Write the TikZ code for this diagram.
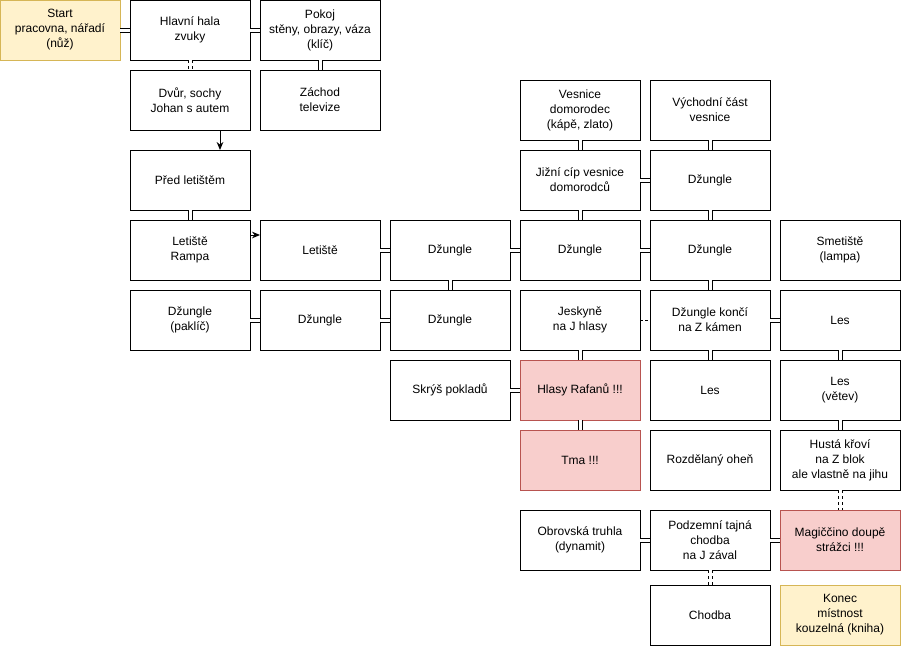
\documentclass[tikz,border=0pt]{standalone}
\usepackage{fontspec}
\setmainfont{Liberation Sans}
\usepackage{tikz}
\usetikzlibrary{arrows.meta,positioning}
\usepackage{xcolor}
\definecolor{goalfill}{HTML}{FFF2CC}
\definecolor{goaldraw}{HTML}{D6B656}
\definecolor{dangerfill}{HTML}{F8CECC}
\definecolor{dangerdraw}{HTML}{B85450}

\begin{document}
\begin{tikzpicture}[x=0.75pt, y=-0.75pt, font=\fontsize{9}{11.25}\selectfont, node distance=7.5pt and 7.5pt,
  room/.style={draw, line width=0.75pt, align=center, minimum width=90pt, minimum height=45pt, inner sep=2pt, outer sep=0pt},
  goal/.style={room, fill=goalfill, draw=goaldraw}, danger/.style={room, fill=dangerfill, draw=dangerdraw},
  link/.style={double, double distance=2.25pt, line width=0.75pt}, dlink/.style={link, dash pattern=on 2.25pt off 2.25pt},
  >={Stealth[length=6pt, width=5pt]}]
\useasboundingbox (0,0) rectangle (902,647);
\node[goal] (start) at (60,30) {Start\\pracovna, nářadí\\(nůž)};
\node[room, right=of start] (hala) {Hlavní hala\\zvuky};
\node[room, right=of hala] (pokoj) {Pokoj\\stěny, obrazy, váza\\(klíč)};
\node[room, below=of hala] (dvur) {Dvůr, sochy\\Johan s autem};
\node[room, below=of pokoj] (zachod) {Záchod\\televize};
\node[room, below=15pt of dvur] (pred) {Před letištěm};
\node[room, below=of pred] (rampa) {Letiště\\Rampa};
\node[room, right=of rampa] (letiste) {Letiště};
\node[room, right=of letiste] (dzA) {Džungle};
\node[room, right=of dzA] (dzB) {Džungle};
\node[room, right=of dzB] (dzC) {Džungle};
\node[room, right=of dzC] (smetiste) {Smetiště\\(lampa)};
\node[room, above=of dzB] (jizni) {Jižní cíp vesnice\\domorodců};
\node[room, above=of dzC] (dzV) {Džungle};
\node[room, above=of jizni] (vesnice) {Vesnice\\domorodec\\(kápě, zlato)};
\node[room, above=of dzV] (vychod) {Východní část\\vesnice};
\node[room, below=of rampa] (paklic) {Džungle\\(paklíč)};
\node[room, below=of letiste] (dzD) {Džungle};
\node[room, below=of dzA] (dzE) {Džungle};
\node[room, below=of dzB] (jeskyne) {Jeskyně\\na J hlasy};
\node[room, below=of dzC] (konci) {Džungle končí\\na Z kámen};
\node[room, below=of smetiste] (lesA) {Les};
\node[room, below=of dzE] (skrys) {Skrýš pokladů};
\node[danger, below=of jeskyne] (hlasy) {Hlasy Rafanů !!!};
\node[room, below=of konci] (lesB) {Les};
\node[room, below=of lesA] (vetev) {Les\\(větev)};
\node[danger, below=of hlasy] (tma) {Tma !!!};
\node[room, below=of lesB] (ohen) {Rozdělaný oheň};
\node[room, below=of vetev] (krovi) {Hustá křoví\\na Z blok\\ale vlastně na jihu};
\node[room, below=15pt of tma] (truhla) {Obrovská truhla\\(dynamit)};
\node[room, below=15pt of ohen] (podzemni) {Podzemní tajná\\chodba\\na J zával};
\node[danger, below=15pt of krovi] (magic) {Magiččino doupě\\strážci !!!};
\node[room, below=11.25pt of podzemni] (chodba) {Chodba};
\node[goal, below=11.25pt of magic] (konec) {Konec\\místnost\\kouzelná (kniha)};
% top floor
\draw[link] (start) -- (hala); \draw[link] (hala) -- (pokoj); \draw[link] (pokoj) -- (zachod);
\draw[dlink] (hala) -- (dvur);
\draw[->, line width=0.75pt] ([xshift=22.5pt]dvur.south) -- ([xshift=22.5pt]pred.north);
\draw[link] (pred) -- (rampa);
\draw[->, line width=0.75pt] ([yshift=11.25pt]rampa.east) -- ([yshift=11.25pt]letiste.west);
% jungle
\draw[link] (letiste) -- (dzA); \draw[link] (dzA) -- (dzB); \draw[link] (dzB) -- (dzC);
\draw[link] (dzA) -- (dzE); \draw[link] (paklic) -- (dzD); \draw[link] (dzD) -- (dzE);
\draw[link] (vesnice) -- (jizni); \draw[link] (jizni) -- (dzV); \draw[link] (jizni) -- (dzB);
\draw[link] (vychod) -- (dzV); \draw[link] (dzV) -- (dzC); \draw[link] (dzC) -- (konci);
\draw[dash pattern=on 2.25pt off 1.5pt, line width=0.75pt] (jeskyne) -- (konci);
\draw[link] (konci) -- (lesA); \draw[link] (konci) -- (lesB);
\draw[link] (lesA) -- (vetev); \draw[link] (vetev) -- (krovi);
\draw[dlink] (krovi) -- (magic);
% cave
\draw[link] (jeskyne) -- (hlasy); \draw[link] (skrys) -- (hlasy); \draw[link] (hlasy) -- (tma);
\draw[link] (truhla) -- (podzemni); \draw[link] (podzemni) -- (magic);
\draw[dlink] (podzemni) -- (chodba);
\end{tikzpicture}
\end{document}
